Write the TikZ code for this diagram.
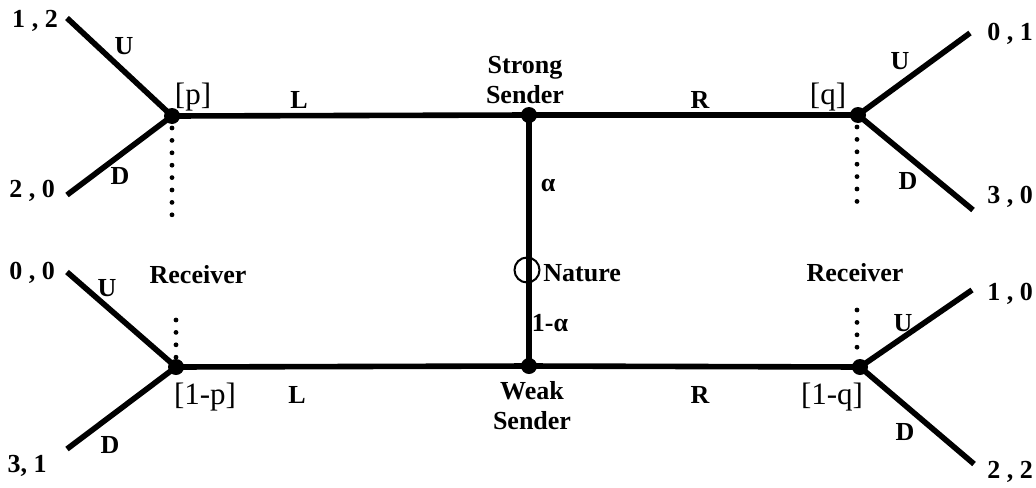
\documentclass[tikz,border=0pt]{standalone}
\usepackage{fontspec}
\setmainfont{Liberation Serif}
\begin{document}
\begin{tikzpicture}[x=0.5pt,y=-0.5pt,
  branch/.style={line width=2.8pt},
  infoset/.style={line width=2.4pt,dash pattern=on 0pt off 6.2pt,line cap=round},
  dnode/.style={circle,fill,inner sep=0pt,minimum size=8pt},
  lab/.style={font=\bfseries\fontsize{13}{15}\selectfont,inner sep=1pt},
  belief/.style={font=\fontsize{15.5}{17}\selectfont,inner sep=1pt}]
\useasboundingbox (0,0) rectangle (1036,487);
% decision nodes
\node[dnode] (pL) at (172,116) {};
\node[dnode] (pLw) at (176,367) {};
\node[dnode] (sS) at (529,115) {};
\node[dnode] (wS) at (529,366) {};
\node[dnode] (qR) at (858,115) {};
\node[dnode] (qRw) at (860,367) {};
\node[circle,draw,line width=1pt,minimum size=12.5pt,inner sep=0pt] (nat) at (527,270) {};
% ends of the branches
\coordinate (e1) at (67,18);
\coordinate (e2) at (67,195);
\coordinate (e3) at (67,272);
\coordinate (e4) at (67,449);
\coordinate (e5) at (970,33);
\coordinate (e6) at (973,210);
\coordinate (e7) at (972,290);
\coordinate (e8) at (974,464);

\draw[branch] (pL.center) -- (sS.center) -- (qR.center);
\draw[branch] (pLw.center) -- (wS.center) -- (qRw.center);
\draw[branch] (sS.center) -- (wS.center);
\draw[branch] (e1) -- (pL.center) -- (e2);
\draw[branch] (e3) -- (pLw.center) -- (e4);
\draw[branch] (e5) -- (qR.center) -- (e6);
\draw[branch] (e7) -- (qRw.center) -- (e8);

% payoffs
\node[lab] (o1) at (35,21) {1 , 2};
\node[lab] (o2) at (32,191) {2 , 0};
\node[lab] (o3) at (32,273) {0 , 0};
\node[lab] (o4) at (27,466) {3, 1};
\node[lab] (o5) at (1010,34) {0 , 1};
\node[lab] (o6) at (1010,197) {3 , 0};
\node[lab] (o7) at (1010,294) {1 , 0};
\node[lab] (o8) at (1010,472) {2 , 2};

% actions
\node[lab] at (124,46) {U};
\node[lab] at (120,176) {D};
\node[lab] at (107,288) {U};
\node[lab] at (110,445) {D};
\node[lab] at (900,61) {U};
\node[lab] at (908,181) {D};
\node[lab] at (903,323) {U};
\node[lab] at (905,432) {D};
\node[lab] at (299,100) {L};
\node[lab] at (700,100) {R};
\node[lab] at (297,395) {L};
\node[lab] at (700,395) {R};

% beliefs
\node[belief] at (193,97) {[p]};
\node[belief] at (828,97) {[q]};
\node[belief] at (205,397) {[1-p]};
\node[belief] at (832,397) {[1-q]};

\node[lab,align=center] at (525,80) {Strong\\Sender};
\node[lab,align=center] at (532,406) {Weak\\Sender};
\node[lab] at (548,185) {α};
\node[lab] at (550,323) {1-α};
\node[lab,anchor=west] at (541,273) {Nature};

% information sets
\node[lab] (rL) at (198,275) {Receiver};
\node[lab] (rR) at (855,273) {Receiver};
\draw[infoset] (172,128) -- (172,220);
\draw[infoset] (176,320) -- (176,358);
\draw[infoset] (857,127) -- (857,210);
\draw[infoset] (857,310) -- (857,358);
\end{tikzpicture}
\end{document}
